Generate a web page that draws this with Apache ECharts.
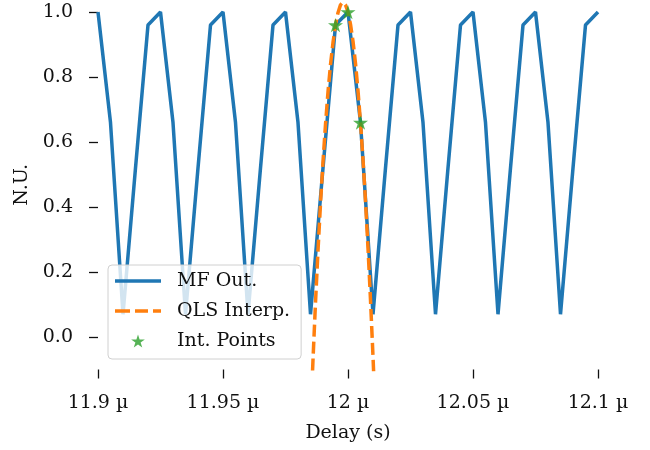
<!DOCTYPE html>
<html>
<head>
<meta charset="utf-8">
<script src="https://cdn.jsdelivr.net/npm/echarts@6/dist/echarts.min.js"></script>
<style>
html,body{margin:0;padding:0;background:#fff;}
#chart{width:650px;height:450px;}
</style>
</head>
<body>
<div id="chart"></div>
<script>
// Delay samples (µs) and matched-filter output
var delays = [11.900, 11.905, 11.910, 11.915, 11.920, 11.925, 11.930, 11.935, 11.940, 11.945,
              11.950, 11.955, 11.960, 11.965, 11.970, 11.975, 11.980, 11.985, 11.990, 11.995,
              12.000, 12.005, 12.010, 12.015, 12.020, 12.025, 12.030, 12.035, 12.040, 12.045,
              12.050, 12.055, 12.060, 12.065, 12.070, 12.075, 12.080, 12.085, 12.090, 12.095, 12.100];
var mfValues = [1.00, 0.66, 0.07, 0.52, 0.96, 1.00, 0.66, 0.07, 0.52, 0.96,
                1.00, 0.66, 0.07, 0.52, 0.96, 1.00, 0.66, 0.07, 0.52, 0.96,
                1.00, 0.66, 0.07, 0.52, 0.96, 1.00, 0.66, 0.07, 0.52, 0.96,
                1.00, 0.66, 0.07, 0.52, 0.96, 1.00, 0.66, 0.07, 0.52, 0.96, 1.00];
// QLS interpolation curve
var qlsX = [11.985, 11.986, 11.987, 11.988, 11.989, 11.990, 11.991, 11.992, 11.993, 11.994,
            11.995, 11.996, 11.997, 11.998, 11.999, 12.000, 12.001, 12.002, 12.003, 12.004,
            12.005, 12.006, 12.007, 12.008, 12.009, 12.010, 12.011];
var qlsY = [-0.26, -0.07, 0.106, 0.266, 0.41, 0.54, 0.654, 0.754, 0.838, 0.906,
            0.96, 0.998, 1.022, 1.030, 1.022, 1.00, 0.962, 0.910, 0.842, 0.758,
            0.66, 0.546, 0.418, 0.274, 0.114, -0.06, -0.25];
// Interpolation points
var intX = [11.995, 12.000, 12.005];
var intY = [0.96, 1.00, 0.66];
// Ticks
var xTicks = [11.9, 11.95, 12.0, 12.05, 12.1];
var xTickLabels = ['11.9 µ', '11.95 µ', '12 µ', '12.05 µ', '12.1 µ'];
var yTicks = [0.0, 0.2, 0.4, 0.6, 0.8, 1.0];
var yTickLabels = ['0.0', '0.2', '0.4', '0.6', '0.8', '1.0'];

function zip(a, b) { return a.map(function (v, i) { return [v, b[i]]; }); }
var STAR = 'path://M50,0 L61.2,34.5 L97.6,34.5 L68.2,55.9 L79.4,90.5 L50,69.1 L20.6,90.5 L31.8,55.9 L2.4,34.5 L38.8,34.5 Z';
var SOLID_ICON = 'path://M0,0 L46,0 L46,3.5 L0,3.5 Z';
var DASH_ICON = 'path://M0,0 L15,0 L15,3.5 L0,3.5 Z M20,0 L33,0 L33,3.5 L20,3.5 Z M38,0 L46,0 L46,3.5 L38,3.5 Z';
var FONT = 'DejaVu Serif';
var TXT = '#111';

var chart = echarts.init(document.getElementById('chart'), null, {renderer: 'canvas'});
chart.setOption({
  animation: false,
  backgroundColor: '#fff',
  grid: {left: 98, right: 52, top: 0, bottom: 80.5, containLabel: false, outerBoundsMode: 'none'},
  xAxis: {
    type: 'value', min: 11.9, max: 12.1,
    name: 'Delay (s)', nameLocation: 'middle', nameGap: 54,
    nameTextStyle: {fontFamily: FONT, fontSize: 19, color: TXT},
    axisLine: {show: false, onZero: false},
    splitLine: {show: false},
    axisTick: {show: true, length: 9, customValues: xTicks, lineStyle: {color: TXT, width: 1.3}},
    axisLabel: {
      customValues: xTicks, margin: 24, fontFamily: FONT, fontSize: 19, color: TXT,
      formatter: function (v) {
        for (var i = 0; i < xTicks.length; i++) { if (Math.abs(xTicks[i] - v) < 1e-9) return xTickLabels[i]; }
        return '';
      }
    }
  },
  yAxis: {
    type: 'value', min: -0.1, max: 1.037,
    name: 'N.U.', nameLocation: 'middle', nameGap: 66, nameRotate: 90,
    nameTextStyle: {fontFamily: FONT, fontSize: 19, color: TXT},
    axisLine: {show: false, onZero: false},
    splitLine: {show: false},
    axisTick: {show: true, length: 9, customValues: yTicks, lineStyle: {color: TXT, width: 1.3}},
    axisLabel: {
      customValues: yTicks, margin: 25, fontFamily: FONT, fontSize: 19, color: TXT,
      formatter: function (v) {
        for (var i = 0; i < yTicks.length; i++) { if (Math.abs(yTicks[i] - v) < 1e-9) return yTickLabels[i]; }
        return '';
      }
    }
  },
  legend: {
    orient: 'vertical', left: 108, top: 265,
    padding: [6, 11, 8, 7],
    itemWidth: 46, itemHeight: 13, itemGap: 10,
    backgroundColor: 'rgba(255,255,255,0.8)',
    borderColor: '#d0d0d0', borderWidth: 1, borderRadius: 4,
    textStyle: {fontFamily: FONT, fontSize: 19, color: TXT, lineHeight: 20, padding: [0, 0, 0, 11]},
    data: [
      {name: 'MF Out.', icon: SOLID_ICON},
      {name: 'QLS Interp.', icon: DASH_ICON},
      {name: 'Int. Points', icon: STAR}
    ]
  },
  series: [
    {
      name: 'MF Out.', type: 'line', data: zip(delays, mfValues),
      symbol: 'none', z: 2, clip: true,
      lineStyle: {color: '#1f77b4', width: 3.5},
      itemStyle: {color: '#1f77b4'}
    },
    {
      name: 'QLS Interp.', type: 'line', data: zip(qlsX, qlsY),
      symbol: 'none', z: 3, clip: true,
      lineStyle: {color: '#ff7f0e', width: 3.5, type: [12, 5]},
      itemStyle: {color: '#ff7f0e'}
    },
    {
      name: 'Int. Points', type: 'scatter', data: zip(intX, intY),
      symbol: STAR, symbolSize: 15, symbolKeepAspect: true, z: 4,
      itemStyle: {color: '#2ca02c'}
    }
  ]
});
</script>
</body>
</html>
